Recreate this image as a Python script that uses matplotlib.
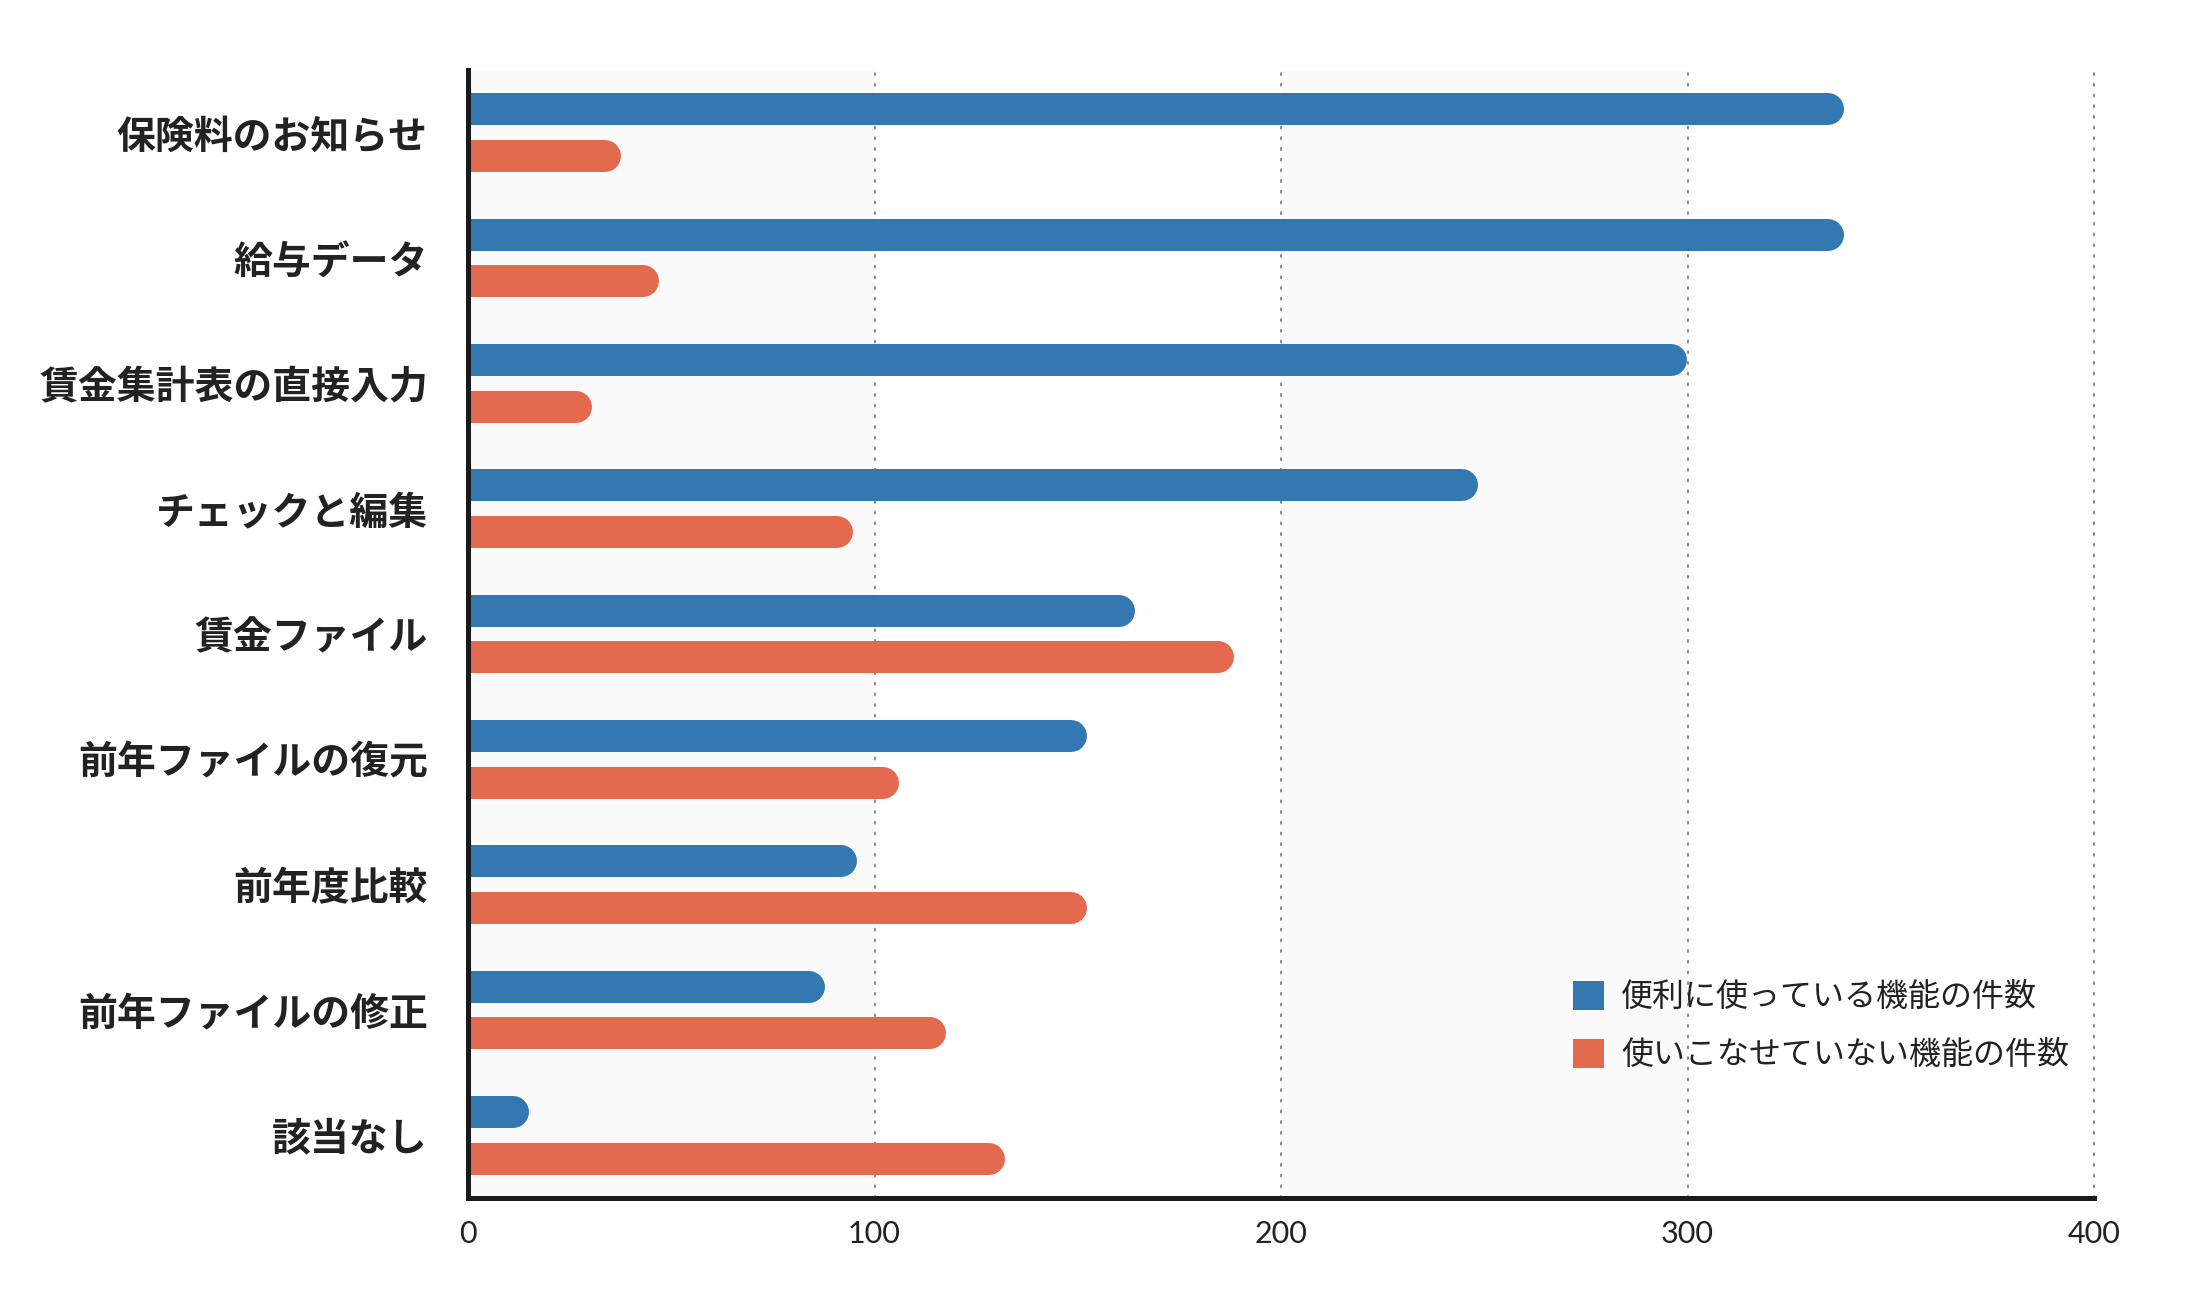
import matplotlib
matplotlib.use('Agg')
import matplotlib.pyplot as plt
import numpy as np
from matplotlib.patches import Patch

categories = ['保険料のお知らせ', '給与データ', '賃金集計表の直接入力', 'チェックと編集',
              '賃金ファイル', '前年ファイルの復元', '前年度比較', '前年ファイルの修正', '該当なし']
useful = [338.6, 338.6, 299.8, 248.4, 164.0, 152.3, 95.6, 87.9, 15.0]
unused = [37.6, 47.0, 30.6, 94.8, 188.4, 106.1, 152.3, 117.7, 132.2]
series_labels = ['便利に使っている機能の件数', '使いこなせていない機能の件数']
xticks = [0, 100, 200, 300, 400]

BLUE = '#3378b1'
ORANGE = '#e36a4e'

W, H = 2190, 1304
DPI = 100
fig = plt.figure(figsize=(W / DPI, H / DPI), dpi=DPI)
ax = fig.add_axes([468 / W, 106 / H, (2094 - 468) / W, (1198 - 70) / H])

ax.set_xlim(0, 400)
n = len(categories)
ax.set_ylim(n - 0.5, -0.5)
ypos = np.arange(n)

# alternating background bands
for i in range(0, len(xticks) - 1, 2):
    ax.axvspan(xticks[i], xticks[i + 1], color='#fbfafa', zorder=0, lw=0)

# dotted gridlines
for x in xticks[1:]:
    ax.axvline(x, color='#8a8a8a', lw=1.4, ls=(0, (1, 4.5)), zorder=1,
               dash_capstyle='round', clip_on=False)

# rounded bars
ax_px_w = ax.get_position().width * W
px_per_unit = ax_px_w / 400
bar_px = 32
bar_pt = bar_px * 72 / DPI
r_data = (bar_px / 2) / px_per_unit
off = 0.187

for vals, col, sgn in [(useful, BLUE, -1), (unused, ORANGE, 1)]:
    v = np.array(vals)
    lc = ax.hlines(ypos + sgn * off, 0, v - r_data, colors=col, linewidth=bar_pt, zorder=3)
    lc.set_capstyle('round')

# spines
for s in ['top', 'right']:
    ax.spines[s].set_visible(False)
for s in ['left', 'bottom']:
    ax.spines[s].set_linewidth(3.6)
    ax.spines[s].set_color('#1a1a1a')
    ax.spines[s].set_zorder(5)

ax.set_yticks(ypos)
ax.set_yticklabels(categories, fontfamily=['Noto Sans CJK JP', 'DejaVu Sans'],
                   fontweight='bold', fontsize=28, color='#222222')
ax.set_xticks(xticks)
ax.set_xticklabels([str(t) for t in xticks], fontfamily=['Lato', 'DejaVu Sans'],
                   fontweight='normal', fontsize=22, color='#222222')
ax.tick_params(axis='y', length=0, pad=29)
ax.tick_params(axis='x', length=0, pad=16)

handles = [Patch(facecolor=BLUE, edgecolor='none'), Patch(facecolor=ORANGE, edgecolor='none')]
leg = fig.legend(handles, series_labels, loc='center left',
                 bbox_to_anchor=(1573 / W, 1 - 1026 / H),
                 frameon=False, borderpad=0, borderaxespad=0,
                 handlelength=0.98, handleheight=1.03, handletextpad=0.52,
                 labelspacing=0.8,
                 prop={'family': ['Noto Sans CJK JP', 'DejaVu Sans'], 'size': 23})
for t in leg.get_texts():
    t.set_color('#222222')

fig.savefig('out.png', dpi=DPI, facecolor='white')
